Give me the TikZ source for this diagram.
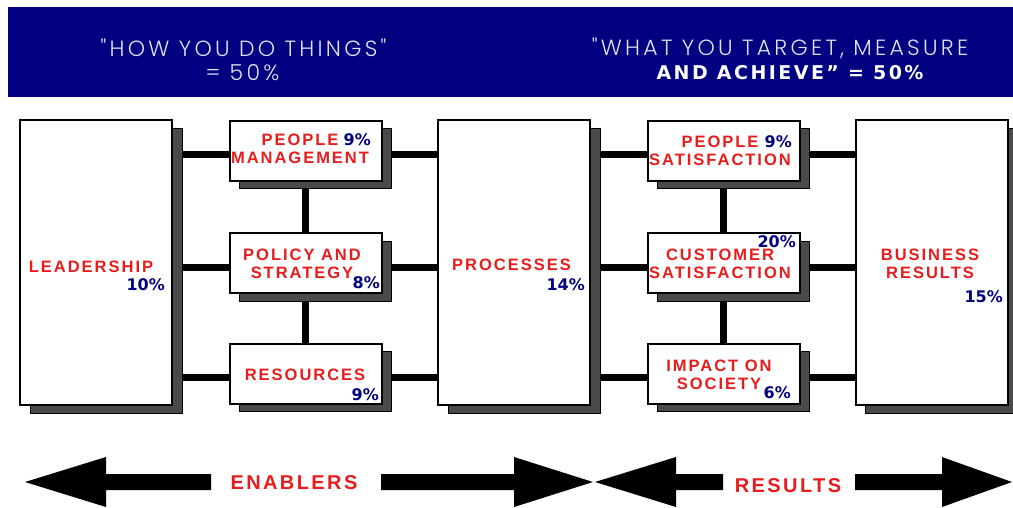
\documentclass[tikz,border=0pt]{standalone}
\usepackage{fontspec}
\setmainfont{Liberation Sans}
\newfontfamily\thinfont{Poppins}[UprightFont={* Light},LetterSpace=15]
\newfontfamily\widefont{DejaVu Sans}[LetterSpace=13]
\newfontfamily\wordfont{Liberation Sans}[LetterSpace=12]
\newfontfamily\pctfont{DejaVu Sans}
\usetikzlibrary{shadows,backgrounds}
\definecolor{bannerblue}{RGB}{0,0,128}
\definecolor{bannertext}{RGB}{225,225,240}
\definecolor{labelred}{RGB}{232,28,28}
\definecolor{pctblue}{RGB}{0,0,128}
\definecolor{shadowgray}{RGB}{74,74,74}

\begin{document}
\begin{tikzpicture}[x=1pt,y=-1pt,
    box/.style={draw=black, line width=2pt, fill=white, inner sep=0pt,
      drop shadow={shadow xshift=10pt, shadow yshift=-8pt, fill=shadowgray,
        draw=black, line width=1pt, opacity=1}},
    tall/.style={box, minimum width=152pt, minimum height=285pt},
    small/.style={box, minimum width=152pt, minimum height=60pt},
    word/.style={text=labelred, font=\wordfont\bfseries\fontsize{16.5}{18}\selectfont,
      align=center, inner sep=0pt},
    bigword/.style={word, font=\wordfont\bfseries\fontsize{20}{20}\selectfont},
    pct/.style={text=pctblue, font=\pctfont\bfseries\fontsize{16}{16}\selectfont,
      inner sep=0pt, anchor=east},
    thin/.style={text=bannertext, font=\thinfont\fontsize{22}{22}\selectfont, inner sep=0pt},
    heavy/.style={text=white, font=\widefont\bfseries\fontsize{19}{19}\selectfont, inner sep=0pt},
    link/.style={line width=7pt, black}]
  \useasboundingbox (0,0) rectangle (1013,507);

  \fill[bannerblue] (8,7) rectangle (1013,97);
  \node[thin] (how) at (243.5,48) {"HOW YOU DO THINGS"};
  \node[thin] (howpct) at (242.5,73) {= 50\%};
  \node[thin] (what) at (780,48) {"WHAT YOU TARGET, MEASURE};
  \node[heavy] (achieve) at (790,73) {AND ACHIEVE” = 50\%};

  \node[tall] (lead) at (96,262.5) {};
  \node[small] (pm) at (305.5,150.5) {};
  \node[small] (pol) at (305.5,263) {};
  \node[small] (res) at (305.5,373.5) {};
  \node[tall] (proc) at (514,262.5) {};
  \node[small] (psat) at (723.5,150.5) {};
  \node[small] (csat) at (723.5,263) {};
  \node[small] (soc) at (723.5,373.5) {};
  \node[tall] (bres) at (931.5,262.5) {};

  \begin{scope}[on background layer]
    \foreach \s in {pm,pol,res}
      \draw[link] ([yshift=-4pt]lead.center |- \s.center) -- ([yshift=-4pt]\s.center)
        -- ([yshift=-4pt]proc.center |- \s.center);
    \foreach \s in {psat,csat,soc}
      \draw[link] ([yshift=-4pt]proc.center |- \s.center) -- ([yshift=-4pt]\s.center)
        -- ([yshift=-4pt]bres.center |- \s.center);
    \draw[link] (pm) -- (pol) -- (res);
    \draw[link] (psat) -- (csat) -- (soc);
  \end{scope}

  \node[word] (leadtxt) at (91,267) {LEADERSHIP};
  \node[pct] (leadpct) at (165,285) {10\%};
  \node[word] (pmtxt) at (300,148.5) {PEOPLE\\MANAGEMENT};
  \node[pct] (pmpct) at (371,140) {9\%};
  \node[word] (poltxt) at (302,263.5) {POLICY AND\\STRATEGY};
  \node[pct] (polpct) at (380,283) {8\%};
  \node[word] (restxt) at (305,375) {RESOURCES};
  \node[pct] (respct) at (379,395) {9\%};
  \node[word] (proctxt) at (511.5,265) {PROCESSES};
  \node[pct] (procpct) at (585,285) {14\%};
  \node[word] (psattxt) at (720,151) {PEOPLE\\SATISFACTION};
  \node[pct] (psatpct) at (792,142) {9\%};
  \node[word] (csattxt) at (720,263.5) {CUSTOMER\\SATISFACTION};
  \node[pct] (csatpct) at (796,242) {20\%};
  \node[word] (soctxt) at (719,374.5) {IMPACT ON\\SOCIETY};
  \node[pct] (socpct) at (791,393) {6\%};
  \node[word] (brestxt) at (930,263.5) {BUSINESS\\RESULTS};
  \node[pct] (brespct) at (1003,297) {15\%};

  \fill (25,482) -- (106,457) -- (106,474) -- (211,474) -- (211,490) -- (106,490) -- (106,507) -- cycle;
  \fill (381,474) -- (514,474) -- (514,457) -- (593,482) -- (514,507) -- (514,490) -- (381,490) -- cycle;
  \fill (595,482) -- (676,457) -- (676,474) -- (723,474) -- (723,490) -- (676,490) -- (676,507) -- cycle;
  \fill (855,474) -- (942,474) -- (942,457) -- (1012,482) -- (942,507) -- (942,490) -- (855,490) -- cycle;
  \node[bigword] (enablers) at (294,483) {ENABLERS};
  \node[bigword] (results) at (788,486) {RESULTS};
\end{tikzpicture}
\end{document}
